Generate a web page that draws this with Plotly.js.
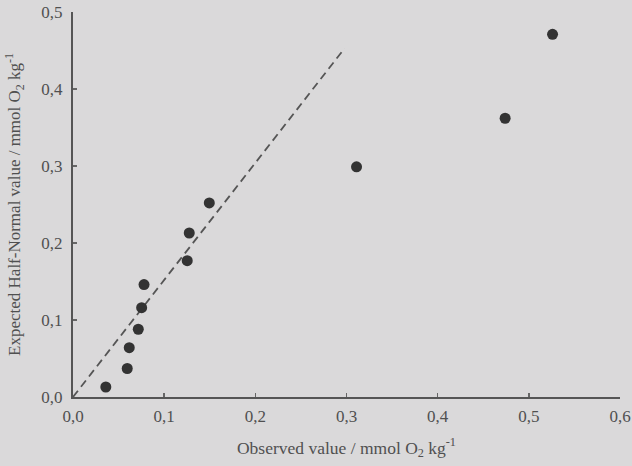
<!DOCTYPE html>
<html>
<head>
<meta charset="utf-8">
<script src="https://cdn.plot.ly/plotly-3.0.1.min.js"></script>
<style>html,body{margin:0;padding:0;background:#dad9da;}#chart{width:632px;height:466px;}</style>
</head>
<body>
<div id="chart"></div>
<script>
// Observed values (x) and expected half-normal values (y)
const observed = [0.036, 0.0595, 0.0617, 0.0716, 0.0753, 0.0779, 0.1253, 0.1275, 0.1495, 0.311, 0.474, 0.526];
const expected = [0.013, 0.037, 0.064, 0.088, 0.116, 0.146, 0.177, 0.213, 0.252, 0.299, 0.362, 0.471];
// Reference line (dashed)
const lineX = [0, 0.298];
const lineY = [0, 0.453];
const xTicks = [0, 0.1, 0.2, 0.3, 0.4, 0.5, 0.6];
const yTicks = [0, 0.1, 0.2, 0.3, 0.4, 0.5];

const textColor = '#505050';
const font = {family: 'Liberation Serif, Times New Roman, serif', size: 17, color: textColor};
const xTitleFont = {family: 'Liberation Serif, Times New Roman, serif', size: 17.5, color: textColor};
const yTitleFont = {family: 'Liberation Serif, Times New Roman, serif', size: 17, color: textColor};

const traces = [
  {x: lineX, y: lineY, mode: 'lines', line: {color: '#555555', width: 1.8, dash: '8px,5px'}, hoverinfo: 'skip'},
  {x: observed, y: expected, mode: 'markers', marker: {color: '#333333', size: 11}}
];

const layout = {
  width: 632, height: 466,
  paper_bgcolor: '#dad9da', plot_bgcolor: '#dad9da',
  showlegend: false,
  separators: ',.',
  font: font,
  margin: {l: 73, r: 12, t: 12, b: 69},
  xaxis: {
    range: [0, 0.6], tickvals: xTicks, tickformat: '.1f',
    showgrid: false, zeroline: false, showline: true, linecolor: '#555555', linewidth: 2,
    ticks: 'inside', ticklen: 4, tickcolor: '#666666', tickwidth: 1.5,
    tickfont: font, ticklabeloverflow: 'allow', ticklabelstandoff: 3,
    automargin: false,
    title: {text: 'Observed value / mmol O<sub>2</sub> kg<sup>-1</sup>', font: xTitleFont, standoff: 16}
  },
  yaxis: {
    range: [0, 0.5], tickvals: yTicks, tickformat: '.1f',
    showgrid: false, zeroline: false, showline: true, linecolor: '#555555', linewidth: 2,
    ticks: 'inside', ticklen: 4, tickcolor: '#666666', tickwidth: 1.5,
    tickfont: font, ticklabeloverflow: 'allow', ticklabelstandoff: 5,
    automargin: false,
    title: {text: 'Expected Half-Normal value / mmol O<sub>2</sub> kg<sup>-1</sup>', font: yTitleFont, standoff: 16}
  }
};

Plotly.newPlot('chart', traces, layout, {displayModeBar: false, staticPlot: true});
</script>
</body>
</html>
